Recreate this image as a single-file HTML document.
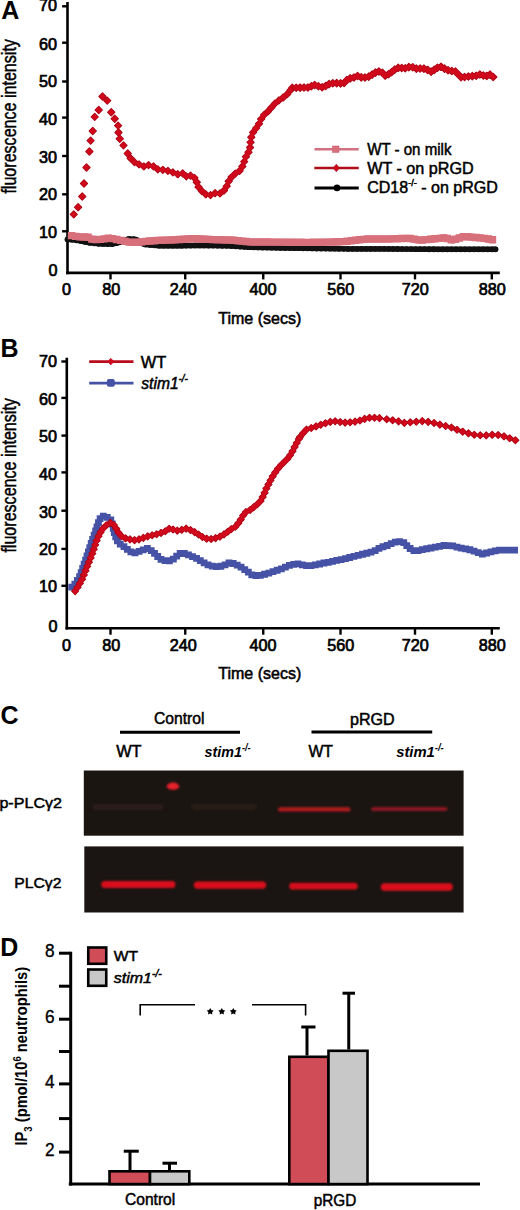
<!DOCTYPE html>
<html><head><meta charset="utf-8"><style>
html,body{margin:0;padding:0;background:#fff;}
svg{display:block;}
text{font-family:"Liberation Sans",sans-serif;fill:#000;}
</style></head><body>
<svg width="520" height="1210" viewBox="0 0 520 1210">
<rect width="520" height="1210" fill="#fff"/>
<text x="1.2" y="19" font-size="25" font-weight="bold" font-style="normal" text-anchor="start">A</text>
<line x1="67.5" y1="1.9" x2="67.5" y2="274.2" stroke="#000" stroke-width="2.6"/>
<line x1="66.2" y1="272.9" x2="499.8" y2="272.9" stroke="#000" stroke-width="2.6"/>
<line x1="62.1" y1="6.3" x2="67.5" y2="6.3" stroke="#000" stroke-width="2.4"/>
<text x="56.9" y="11.3" font-size="16.2" font-weight="normal" font-style="normal" text-anchor="end" stroke="#000" stroke-width="0.7">70</text>
<line x1="62.1" y1="42.7" x2="67.5" y2="42.7" stroke="#000" stroke-width="2.4"/>
<text x="56.9" y="49.9" font-size="16.2" font-weight="normal" font-style="normal" text-anchor="end" stroke="#000" stroke-width="0.7">60</text>
<line x1="62.1" y1="81.5" x2="67.5" y2="81.5" stroke="#000" stroke-width="2.4"/>
<text x="56.9" y="86.9" font-size="16.2" font-weight="normal" font-style="normal" text-anchor="end" stroke="#000" stroke-width="0.7">50</text>
<line x1="62.1" y1="117.6" x2="67.5" y2="117.6" stroke="#000" stroke-width="2.4"/>
<text x="56.9" y="124.6" font-size="16.2" font-weight="normal" font-style="normal" text-anchor="end" stroke="#000" stroke-width="0.7">40</text>
<line x1="62.1" y1="156.0" x2="67.5" y2="156.0" stroke="#000" stroke-width="2.4"/>
<text x="56.9" y="163.3" font-size="16.2" font-weight="normal" font-style="normal" text-anchor="end" stroke="#000" stroke-width="0.7">30</text>
<line x1="62.1" y1="194.3" x2="67.5" y2="194.3" stroke="#000" stroke-width="2.4"/>
<text x="56.9" y="199.9" font-size="16.2" font-weight="normal" font-style="normal" text-anchor="end" stroke="#000" stroke-width="0.7">20</text>
<line x1="62.1" y1="231.3" x2="67.5" y2="231.3" stroke="#000" stroke-width="2.4"/>
<text x="56.9" y="237.5" font-size="16.2" font-weight="normal" font-style="normal" text-anchor="end" stroke="#000" stroke-width="0.7">10</text>
<text x="57.5" y="276.3" font-size="16.2" font-weight="normal" font-style="normal" text-anchor="end" stroke="#000" stroke-width="0.7">0</text>
<line x1="110.5" y1="272.9" x2="110.5" y2="279.4" stroke="#000" stroke-width="2.4"/>
<text x="111.3" y="295.2" font-size="16.2" font-weight="normal" font-style="normal" text-anchor="middle" stroke="#000" stroke-width="0.7">80</text>
<line x1="185.25" y1="272.9" x2="185.25" y2="279.4" stroke="#000" stroke-width="2.4"/>
<text x="183.3" y="295.2" font-size="16.2" font-weight="normal" font-style="normal" text-anchor="middle" stroke="#000" stroke-width="0.7">240</text>
<line x1="263.25" y1="272.9" x2="263.25" y2="279.4" stroke="#000" stroke-width="2.4"/>
<text x="263.0" y="295.2" font-size="16.2" font-weight="normal" font-style="normal" text-anchor="middle" stroke="#000" stroke-width="0.7">400</text>
<line x1="340.5" y1="272.9" x2="340.5" y2="279.4" stroke="#000" stroke-width="2.4"/>
<text x="340.7" y="295.2" font-size="16.2" font-weight="normal" font-style="normal" text-anchor="middle" stroke="#000" stroke-width="0.7">560</text>
<line x1="415" y1="272.9" x2="415" y2="279.4" stroke="#000" stroke-width="2.4"/>
<text x="415.3" y="295.2" font-size="16.2" font-weight="normal" font-style="normal" text-anchor="middle" stroke="#000" stroke-width="0.7">720</text>
<line x1="491.8" y1="272.9" x2="491.8" y2="279.4" stroke="#000" stroke-width="2.4"/>
<text x="492.2" y="295.2" font-size="16.2" font-weight="normal" font-style="normal" text-anchor="middle" stroke="#000" stroke-width="0.7">880</text>
<text x="66.5" y="295.2" font-size="16.2" font-weight="normal" font-style="normal" text-anchor="middle" stroke="#000" stroke-width="0.7">0</text>
<text x="218.3" y="324.0" font-size="16.3" font-weight="normal" font-style="normal" text-anchor="start" textLength="83" lengthAdjust="spacingAndGlyphs" stroke="#000" stroke-width="0.55">Time (secs)</text>
<text transform="translate(16.3 193.6) rotate(-90)" font-size="20.5" textLength="154.5" lengthAdjust="spacingAndGlyphs" stroke="#000" stroke-width="0.45">fluorescence intensity</text>
<polyline points="67.50,239.40 73.00,239.70 80.00,240.90 90.00,242.90 100.00,243.90 112.00,244.10 122.00,241.90 128.00,238.90 136.00,239.40 144.00,244.40 160.00,245.70 180.00,245.70 200.00,245.40 230.00,245.90 250.00,247.20 280.00,247.90 310.00,248.40 350.00,248.90 380.00,248.90 410.00,249.10 440.00,249.30 470.00,249.30 495.50,249.30" fill="none" stroke="#111" stroke-width="5.4" stroke-linejoin="round" stroke-linecap="round"/>
<circle cx="67.50" cy="239.40" r="2.9" fill="#111"/>
<circle cx="71.99" cy="239.65" r="2.9" fill="#111"/>
<circle cx="76.44" cy="240.29" r="2.9" fill="#111"/>
<circle cx="80.87" cy="241.07" r="2.9" fill="#111"/>
<circle cx="85.29" cy="241.96" r="2.9" fill="#111"/>
<circle cx="89.70" cy="242.84" r="2.9" fill="#111"/>
<circle cx="94.17" cy="243.32" r="2.9" fill="#111"/>
<circle cx="98.65" cy="243.76" r="2.9" fill="#111"/>
<circle cx="103.14" cy="243.95" r="2.9" fill="#111"/>
<circle cx="107.64" cy="244.03" r="2.9" fill="#111"/>
<circle cx="112.14" cy="244.07" r="2.9" fill="#111"/>
<circle cx="116.53" cy="243.10" r="2.9" fill="#111"/>
<circle cx="120.93" cy="242.14" r="2.9" fill="#111"/>
<circle cx="125.04" cy="240.38" r="2.9" fill="#111"/>
<circle cx="129.19" cy="238.97" r="2.9" fill="#111"/>
<circle cx="133.68" cy="239.26" r="2.9" fill="#111"/>
<circle cx="137.85" cy="240.55" r="2.9" fill="#111"/>
<circle cx="141.66" cy="242.94" r="2.9" fill="#111"/>
<circle cx="145.74" cy="244.54" r="2.9" fill="#111"/>
<circle cx="150.22" cy="244.91" r="2.9" fill="#111"/>
<circle cx="154.71" cy="245.27" r="2.9" fill="#111"/>
<circle cx="159.19" cy="245.63" r="2.9" fill="#111"/>
<circle cx="163.69" cy="245.70" r="2.9" fill="#111"/>
<circle cx="168.19" cy="245.70" r="2.9" fill="#111"/>
<circle cx="172.69" cy="245.70" r="2.9" fill="#111"/>
<circle cx="177.19" cy="245.70" r="2.9" fill="#111"/>
<circle cx="181.69" cy="245.67" r="2.9" fill="#111"/>
<circle cx="186.19" cy="245.61" r="2.9" fill="#111"/>
<circle cx="190.69" cy="245.54" r="2.9" fill="#111"/>
<circle cx="195.19" cy="245.47" r="2.9" fill="#111"/>
<circle cx="199.69" cy="245.40" r="2.9" fill="#111"/>
<circle cx="204.19" cy="245.47" r="2.9" fill="#111"/>
<circle cx="208.69" cy="245.54" r="2.9" fill="#111"/>
<circle cx="213.19" cy="245.62" r="2.9" fill="#111"/>
<circle cx="217.69" cy="245.69" r="2.9" fill="#111"/>
<circle cx="222.19" cy="245.77" r="2.9" fill="#111"/>
<circle cx="226.68" cy="245.84" r="2.9" fill="#111"/>
<circle cx="231.18" cy="245.98" r="2.9" fill="#111"/>
<circle cx="235.67" cy="246.27" r="2.9" fill="#111"/>
<circle cx="240.16" cy="246.56" r="2.9" fill="#111"/>
<circle cx="244.65" cy="246.85" r="2.9" fill="#111"/>
<circle cx="249.14" cy="247.14" r="2.9" fill="#111"/>
<circle cx="253.64" cy="247.28" r="2.9" fill="#111"/>
<circle cx="258.14" cy="247.39" r="2.9" fill="#111"/>
<circle cx="262.64" cy="247.49" r="2.9" fill="#111"/>
<circle cx="267.14" cy="247.60" r="2.9" fill="#111"/>
<circle cx="271.64" cy="247.70" r="2.9" fill="#111"/>
<circle cx="276.13" cy="247.81" r="2.9" fill="#111"/>
<circle cx="280.63" cy="247.91" r="2.9" fill="#111"/>
<circle cx="285.13" cy="247.99" r="2.9" fill="#111"/>
<circle cx="289.63" cy="248.06" r="2.9" fill="#111"/>
<circle cx="294.13" cy="248.14" r="2.9" fill="#111"/>
<circle cx="298.63" cy="248.21" r="2.9" fill="#111"/>
<circle cx="303.13" cy="248.29" r="2.9" fill="#111"/>
<circle cx="307.63" cy="248.36" r="2.9" fill="#111"/>
<circle cx="312.13" cy="248.43" r="2.9" fill="#111"/>
<circle cx="316.63" cy="248.48" r="2.9" fill="#111"/>
<circle cx="321.13" cy="248.54" r="2.9" fill="#111"/>
<circle cx="325.63" cy="248.60" r="2.9" fill="#111"/>
<circle cx="330.13" cy="248.65" r="2.9" fill="#111"/>
<circle cx="334.63" cy="248.71" r="2.9" fill="#111"/>
<circle cx="339.13" cy="248.76" r="2.9" fill="#111"/>
<circle cx="343.63" cy="248.82" r="2.9" fill="#111"/>
<circle cx="348.13" cy="248.88" r="2.9" fill="#111"/>
<circle cx="352.63" cy="248.90" r="2.9" fill="#111"/>
<circle cx="357.13" cy="248.90" r="2.9" fill="#111"/>
<circle cx="361.63" cy="248.90" r="2.9" fill="#111"/>
<circle cx="366.13" cy="248.90" r="2.9" fill="#111"/>
<circle cx="370.63" cy="248.90" r="2.9" fill="#111"/>
<circle cx="375.13" cy="248.90" r="2.9" fill="#111"/>
<circle cx="379.63" cy="248.90" r="2.9" fill="#111"/>
<circle cx="384.13" cy="248.93" r="2.9" fill="#111"/>
<circle cx="388.63" cy="248.96" r="2.9" fill="#111"/>
<circle cx="393.13" cy="248.99" r="2.9" fill="#111"/>
<circle cx="397.63" cy="249.02" r="2.9" fill="#111"/>
<circle cx="402.13" cy="249.05" r="2.9" fill="#111"/>
<circle cx="406.63" cy="249.08" r="2.9" fill="#111"/>
<circle cx="411.13" cy="249.11" r="2.9" fill="#111"/>
<circle cx="415.63" cy="249.14" r="2.9" fill="#111"/>
<circle cx="420.13" cy="249.17" r="2.9" fill="#111"/>
<circle cx="424.63" cy="249.20" r="2.9" fill="#111"/>
<circle cx="429.13" cy="249.23" r="2.9" fill="#111"/>
<circle cx="433.63" cy="249.26" r="2.9" fill="#111"/>
<circle cx="438.13" cy="249.29" r="2.9" fill="#111"/>
<circle cx="442.63" cy="249.30" r="2.9" fill="#111"/>
<circle cx="447.13" cy="249.30" r="2.9" fill="#111"/>
<circle cx="451.63" cy="249.30" r="2.9" fill="#111"/>
<circle cx="456.13" cy="249.30" r="2.9" fill="#111"/>
<circle cx="460.63" cy="249.30" r="2.9" fill="#111"/>
<circle cx="465.13" cy="249.30" r="2.9" fill="#111"/>
<circle cx="469.63" cy="249.30" r="2.9" fill="#111"/>
<circle cx="474.13" cy="249.30" r="2.9" fill="#111"/>
<circle cx="478.63" cy="249.30" r="2.9" fill="#111"/>
<circle cx="483.13" cy="249.30" r="2.9" fill="#111"/>
<circle cx="487.63" cy="249.30" r="2.9" fill="#111"/>
<circle cx="492.13" cy="249.30" r="2.9" fill="#111"/>
<circle cx="495.50" cy="249.30" r="2.9" fill="#111"/>
<polyline points="71.50,235.60 76.00,236.40 81.20,237.10 87.00,236.80 92.80,239.60 100.50,239.40 110.00,238.10 119.70,240.10 129.30,242.20 139.00,242.20 148.50,241.10 160.00,240.30 175.00,239.80 193.00,238.60 213.00,239.60 232.00,240.10 250.00,241.90 270.00,242.10 290.00,242.20 307.70,242.40 330.00,242.10 345.00,241.60 356.00,240.10 368.00,239.00 385.00,239.10 400.00,238.60 408.50,238.20 420.00,240.20 432.00,239.10 445.00,237.70 452.70,240.10 464.00,236.50 483.50,238.20 492.50,239.80" fill="none" stroke="#d8707c" stroke-width="7.0" stroke-linejoin="round" stroke-linecap="round"/>
<path d="M67.80 231.90h7.40v7.40h-7.40ZM71.94 232.64h7.40v7.40h-7.40ZM76.10 233.21h7.40v7.40h-7.40ZM80.28 233.26h7.40v7.40h-7.40ZM84.36 233.61h7.40v7.40h-7.40ZM88.14 235.44h7.40v7.40h-7.40ZM92.23 235.82h7.40v7.40h-7.40ZM96.43 235.71h7.40v7.40h-7.40ZM100.60 235.18h7.40v7.40h-7.40ZM104.76 234.61h7.40v7.40h-7.40ZM108.89 234.93h7.40v7.40h-7.40ZM113.00 235.78h7.40v7.40h-7.40ZM117.11 236.64h7.40v7.40h-7.40ZM121.22 237.54h7.40v7.40h-7.40ZM125.32 238.44h7.40v7.40h-7.40ZM129.51 238.50h7.40v7.40h-7.40ZM133.71 238.50h7.40v7.40h-7.40ZM137.89 238.20h7.40v7.40h-7.40ZM142.07 237.72h7.40v7.40h-7.40ZM146.25 237.30h7.40v7.40h-7.40ZM150.44 237.01h7.40v7.40h-7.40ZM154.62 236.72h7.40v7.40h-7.40ZM158.82 236.52h7.40v7.40h-7.40ZM163.02 236.38h7.40v7.40h-7.40ZM167.21 236.24h7.40v7.40h-7.40ZM171.41 236.09h7.40v7.40h-7.40ZM175.60 235.81h7.40v7.40h-7.40ZM179.79 235.53h7.40v7.40h-7.40ZM183.98 235.25h7.40v7.40h-7.40ZM188.18 234.97h7.40v7.40h-7.40ZM192.37 235.05h7.40v7.40h-7.40ZM196.56 235.26h7.40v7.40h-7.40ZM200.76 235.47h7.40v7.40h-7.40ZM204.95 235.68h7.40v7.40h-7.40ZM209.15 235.89h7.40v7.40h-7.40ZM213.35 236.01h7.40v7.40h-7.40ZM217.54 236.12h7.40v7.40h-7.40ZM221.74 236.23h7.40v7.40h-7.40ZM225.94 236.34h7.40v7.40h-7.40ZM230.13 236.58h7.40v7.40h-7.40ZM234.31 237.00h7.40v7.40h-7.40ZM238.49 237.42h7.40v7.40h-7.40ZM242.67 237.84h7.40v7.40h-7.40ZM246.85 238.21h7.40v7.40h-7.40ZM251.05 238.25h7.40v7.40h-7.40ZM255.25 238.29h7.40v7.40h-7.40ZM259.45 238.33h7.40v7.40h-7.40ZM263.65 238.37h7.40v7.40h-7.40ZM267.85 238.41h7.40v7.40h-7.40ZM272.05 238.43h7.40v7.40h-7.40ZM276.25 238.45h7.40v7.40h-7.40ZM280.45 238.47h7.40v7.40h-7.40ZM284.65 238.49h7.40v7.40h-7.40ZM288.85 238.53h7.40v7.40h-7.40ZM293.05 238.58h7.40v7.40h-7.40ZM297.25 238.62h7.40v7.40h-7.40ZM301.45 238.67h7.40v7.40h-7.40ZM305.65 238.68h7.40v7.40h-7.40ZM309.85 238.62h7.40v7.40h-7.40ZM314.05 238.56h7.40v7.40h-7.40ZM318.25 238.51h7.40v7.40h-7.40ZM322.45 238.45h7.40v7.40h-7.40ZM326.65 238.39h7.40v7.40h-7.40ZM330.84 238.25h7.40v7.40h-7.40ZM335.04 238.11h7.40v7.40h-7.40ZM339.24 237.97h7.40v7.40h-7.40ZM343.42 237.61h7.40v7.40h-7.40ZM347.58 237.04h7.40v7.40h-7.40ZM351.74 236.48h7.40v7.40h-7.40ZM355.92 236.07h7.40v7.40h-7.40ZM360.10 235.68h7.40v7.40h-7.40ZM364.29 235.30h7.40v7.40h-7.40ZM368.49 235.32h7.40v7.40h-7.40ZM372.69 235.35h7.40v7.40h-7.40ZM376.89 235.37h7.40v7.40h-7.40ZM381.09 235.40h7.40v7.40h-7.40ZM385.28 235.27h7.40v7.40h-7.40ZM389.48 235.13h7.40v7.40h-7.40ZM393.68 234.99h7.40v7.40h-7.40ZM397.88 234.83h7.40v7.40h-7.40ZM402.07 234.63h7.40v7.40h-7.40ZM406.25 234.75h7.40v7.40h-7.40ZM410.38 235.47h7.40v7.40h-7.40ZM414.52 236.19h7.40v7.40h-7.40ZM418.69 236.28h7.40v7.40h-7.40ZM422.87 235.90h7.40v7.40h-7.40ZM427.05 235.51h7.40v7.40h-7.40ZM431.23 235.08h7.40v7.40h-7.40ZM435.40 234.63h7.40v7.40h-7.40ZM439.58 234.19h7.40v7.40h-7.40ZM443.66 234.74h7.40v7.40h-7.40ZM447.67 235.98h7.40v7.40h-7.40ZM451.67 235.55h7.40v7.40h-7.40ZM455.67 234.27h7.40v7.40h-7.40ZM459.68 233.00h7.40v7.40h-7.40ZM463.83 233.11h7.40v7.40h-7.40ZM468.02 233.47h7.40v7.40h-7.40ZM472.20 233.84h7.40v7.40h-7.40ZM476.38 234.20h7.40v7.40h-7.40ZM480.56 234.64h7.40v7.40h-7.40ZM484.69 235.37h7.40v7.40h-7.40ZM488.80 236.10h7.40v7.40h-7.40Z" fill="#d8707c"/>
<path d="M73.75 210.95L77.20 214.40L73.75 217.85L70.30 214.40ZM78.10 203.80L81.55 207.25L78.10 210.70L74.65 207.25ZM82.25 193.05L85.70 196.50L82.25 199.95L78.80 196.50ZM84.00 180.05L87.45 183.50L84.00 186.95L80.55 183.50ZM86.50 164.05L89.95 167.50L86.50 170.95L83.05 167.50ZM89.40 148.05L92.85 151.50L89.40 154.95L85.95 151.50ZM90.60 137.15L94.05 140.60L90.60 144.05L87.15 140.60ZM92.75 127.55L96.20 131.00L92.75 134.45L89.30 131.00ZM94.75 113.45L98.20 116.90L94.75 120.35L91.30 116.90ZM98.75 106.55L102.20 110.00L98.75 113.45L95.30 110.00ZM102.50 93.05L105.95 96.50L102.50 99.95L99.05 96.50ZM107.25 97.15L110.70 100.60L107.25 104.05L103.80 100.60ZM111.25 108.80L114.70 112.25L111.25 115.70L107.80 112.25ZM114.75 115.30L118.20 118.75L114.75 122.20L111.30 118.75ZM118.10 122.15L121.55 125.60L118.10 129.05L114.65 125.60ZM118.50 129.05L121.95 132.50L118.50 135.95L115.05 132.50ZM119.75 135.30L123.20 138.75L119.75 142.20L116.30 138.75ZM123.50 141.95L126.95 145.40L123.50 148.85L120.05 145.40ZM127.70 150.05L131.15 153.50L127.70 156.95L124.25 153.50ZM130.60 154.85L134.05 158.30L130.60 161.75L127.15 158.30ZM134.40 158.65L137.85 162.10L134.40 165.55L130.95 162.10ZM139.05 160.98L142.50 164.43L139.05 167.88L135.60 164.43ZM143.84 162.99L147.29 166.44L143.84 169.89L140.39 166.44ZM148.54 161.68L151.99 165.13L148.54 168.58L145.09 165.13ZM153.49 162.99L156.94 166.44L153.49 169.89L150.04 166.44ZM157.80 165.87L161.25 169.32L157.80 172.77L154.35 169.32ZM162.86 166.35L166.31 169.80L162.86 173.25L159.41 169.80ZM167.90 167.43L171.35 170.88L167.90 174.33L164.45 170.88ZM172.87 168.96L176.32 172.41L172.87 175.86L169.42 172.41ZM177.74 170.78L181.19 174.23L177.74 177.68L174.29 174.23ZM182.68 169.91L186.13 173.36L182.68 176.81L179.23 173.36ZM186.34 172.94L189.79 176.39L186.34 179.84L182.89 176.39ZM190.50 172.14L193.95 175.59L190.50 179.04L187.05 175.59ZM194.39 174.37L197.84 177.82L194.39 181.27L190.94 177.82ZM196.79 178.79L200.24 182.24L196.79 185.69L193.34 182.24ZM198.56 183.61L202.01 187.06L198.56 190.51L195.11 187.06ZM201.86 187.61L205.31 191.06L201.86 194.51L198.41 191.06ZM205.83 190.86L209.28 194.31L205.83 197.76L202.38 194.31ZM210.54 191.66L213.99 195.11L210.54 198.56L207.09 195.11ZM215.07 189.75L218.52 193.20L215.07 196.65L211.62 193.20ZM219.97 190.01L223.42 193.46L219.97 196.91L216.52 193.46ZM223.97 187.03L227.42 190.48L223.97 193.93L220.52 190.48ZM226.76 182.68L230.21 186.13L226.76 189.58L223.31 186.13ZM228.68 177.85L232.13 181.30L228.68 184.75L225.23 181.30ZM231.62 173.62L235.07 177.07L231.62 180.52L228.17 177.07ZM235.33 170.11L238.78 173.56L235.33 177.01L231.88 173.56ZM239.62 167.38L243.07 170.83L239.62 174.28L236.17 170.83ZM242.34 163.00L245.79 166.45L242.34 169.90L238.89 166.45ZM244.23 158.16L247.68 161.61L244.23 165.06L240.78 161.61ZM245.95 153.25L249.40 156.70L245.95 160.15L242.50 156.70ZM248.46 148.80L251.91 152.25L248.46 155.70L245.01 152.25ZM250.04 144.02L253.49 147.47L250.04 150.92L246.59 147.47ZM250.58 138.85L254.03 142.30L250.58 145.75L247.13 142.30ZM251.29 133.74L254.74 137.19L251.29 140.64L247.84 137.19ZM253.10 128.90L256.55 132.35L253.10 135.80L249.65 132.35ZM256.17 124.69L259.62 128.14L256.17 131.59L252.72 128.14ZM259.01 120.34L262.46 123.79L259.01 127.24L255.56 123.79ZM261.15 115.60L264.60 119.05L261.15 122.50L257.70 119.05ZM264.10 111.45L267.55 114.90L264.10 118.35L260.65 114.90ZM267.95 107.97L271.40 111.42L267.95 114.87L264.50 111.42ZM271.41 104.09L274.86 107.54L271.41 110.99L267.96 107.54ZM274.84 100.19L278.29 103.64L274.84 107.09L271.39 103.64ZM278.91 96.95L282.36 100.40L278.91 103.85L275.46 100.40ZM283.20 94.03L286.65 97.48L283.20 100.93L279.75 97.48ZM287.19 90.72L290.64 94.17L287.19 97.62L283.74 94.17ZM290.50 86.72L293.95 90.17L290.50 93.62L287.05 90.17ZM292.30 84.25L295.75 87.70L292.30 91.15L288.85 87.70Z" fill="#a4000f" stroke="#a4000f" stroke-width="1.3" stroke-linejoin="round"/>
<path d="M73.75 210.95L77.20 214.40L73.75 217.85L70.30 214.40ZM78.10 203.80L81.55 207.25L78.10 210.70L74.65 207.25ZM82.25 193.05L85.70 196.50L82.25 199.95L78.80 196.50ZM84.00 180.05L87.45 183.50L84.00 186.95L80.55 183.50ZM86.50 164.05L89.95 167.50L86.50 170.95L83.05 167.50ZM89.40 148.05L92.85 151.50L89.40 154.95L85.95 151.50ZM90.60 137.15L94.05 140.60L90.60 144.05L87.15 140.60ZM92.75 127.55L96.20 131.00L92.75 134.45L89.30 131.00ZM94.75 113.45L98.20 116.90L94.75 120.35L91.30 116.90ZM98.75 106.55L102.20 110.00L98.75 113.45L95.30 110.00ZM102.50 93.05L105.95 96.50L102.50 99.95L99.05 96.50ZM107.25 97.15L110.70 100.60L107.25 104.05L103.80 100.60ZM111.25 108.80L114.70 112.25L111.25 115.70L107.80 112.25ZM114.75 115.30L118.20 118.75L114.75 122.20L111.30 118.75ZM118.10 122.15L121.55 125.60L118.10 129.05L114.65 125.60ZM118.50 129.05L121.95 132.50L118.50 135.95L115.05 132.50ZM119.75 135.30L123.20 138.75L119.75 142.20L116.30 138.75ZM123.50 141.95L126.95 145.40L123.50 148.85L120.05 145.40ZM127.70 150.05L131.15 153.50L127.70 156.95L124.25 153.50ZM130.60 154.85L134.05 158.30L130.60 161.75L127.15 158.30ZM134.40 158.65L137.85 162.10L134.40 165.55L130.95 162.10ZM139.05 160.98L142.50 164.43L139.05 167.88L135.60 164.43ZM143.84 162.99L147.29 166.44L143.84 169.89L140.39 166.44ZM148.54 161.68L151.99 165.13L148.54 168.58L145.09 165.13ZM153.49 162.99L156.94 166.44L153.49 169.89L150.04 166.44ZM157.80 165.87L161.25 169.32L157.80 172.77L154.35 169.32ZM162.86 166.35L166.31 169.80L162.86 173.25L159.41 169.80ZM167.90 167.43L171.35 170.88L167.90 174.33L164.45 170.88ZM172.87 168.96L176.32 172.41L172.87 175.86L169.42 172.41ZM177.74 170.78L181.19 174.23L177.74 177.68L174.29 174.23ZM182.68 169.91L186.13 173.36L182.68 176.81L179.23 173.36ZM186.34 172.94L189.79 176.39L186.34 179.84L182.89 176.39ZM190.50 172.14L193.95 175.59L190.50 179.04L187.05 175.59ZM194.39 174.37L197.84 177.82L194.39 181.27L190.94 177.82ZM196.79 178.79L200.24 182.24L196.79 185.69L193.34 182.24ZM198.56 183.61L202.01 187.06L198.56 190.51L195.11 187.06ZM201.86 187.61L205.31 191.06L201.86 194.51L198.41 191.06ZM205.83 190.86L209.28 194.31L205.83 197.76L202.38 194.31ZM210.54 191.66L213.99 195.11L210.54 198.56L207.09 195.11ZM215.07 189.75L218.52 193.20L215.07 196.65L211.62 193.20ZM219.97 190.01L223.42 193.46L219.97 196.91L216.52 193.46ZM223.97 187.03L227.42 190.48L223.97 193.93L220.52 190.48ZM226.76 182.68L230.21 186.13L226.76 189.58L223.31 186.13ZM228.68 177.85L232.13 181.30L228.68 184.75L225.23 181.30ZM231.62 173.62L235.07 177.07L231.62 180.52L228.17 177.07ZM235.33 170.11L238.78 173.56L235.33 177.01L231.88 173.56ZM239.62 167.38L243.07 170.83L239.62 174.28L236.17 170.83ZM242.34 163.00L245.79 166.45L242.34 169.90L238.89 166.45ZM244.23 158.16L247.68 161.61L244.23 165.06L240.78 161.61ZM245.95 153.25L249.40 156.70L245.95 160.15L242.50 156.70ZM248.46 148.80L251.91 152.25L248.46 155.70L245.01 152.25ZM250.04 144.02L253.49 147.47L250.04 150.92L246.59 147.47ZM250.58 138.85L254.03 142.30L250.58 145.75L247.13 142.30ZM251.29 133.74L254.74 137.19L251.29 140.64L247.84 137.19ZM253.10 128.90L256.55 132.35L253.10 135.80L249.65 132.35ZM256.17 124.69L259.62 128.14L256.17 131.59L252.72 128.14ZM259.01 120.34L262.46 123.79L259.01 127.24L255.56 123.79ZM261.15 115.60L264.60 119.05L261.15 122.50L257.70 119.05ZM264.10 111.45L267.55 114.90L264.10 118.35L260.65 114.90ZM267.95 107.97L271.40 111.42L267.95 114.87L264.50 111.42ZM271.41 104.09L274.86 107.54L271.41 110.99L267.96 107.54ZM274.84 100.19L278.29 103.64L274.84 107.09L271.39 103.64ZM278.91 96.95L282.36 100.40L278.91 103.85L275.46 100.40ZM283.20 94.03L286.65 97.48L283.20 100.93L279.75 97.48ZM287.19 90.72L290.64 94.17L287.19 97.62L283.74 94.17ZM290.50 86.72L293.95 90.17L290.50 93.62L287.05 90.17ZM292.30 84.25L295.75 87.70L292.30 91.15L288.85 87.70Z" fill="#d0081c"/>
<path d="M296.20 84.10L299.80 87.70L296.20 91.30L292.60 87.70ZM300.10 84.07L303.70 87.67L300.10 91.27L296.50 87.67ZM304.00 83.93L307.60 87.53L304.00 91.13L300.40 87.53ZM307.90 83.90L311.50 87.50L307.90 91.10L304.30 87.50ZM311.36 82.59L314.96 86.19L311.36 89.79L307.76 86.19ZM314.67 81.39L318.27 84.99L314.67 88.59L311.07 84.99ZM318.37 82.62L321.97 86.22L318.37 89.82L314.77 86.22ZM322.14 83.64L325.74 87.24L322.14 90.84L318.54 87.24ZM325.61 82.45L329.21 86.05L325.61 89.65L322.01 86.05ZM329.01 80.55L332.61 84.15L329.01 87.75L325.41 84.15ZM332.82 79.70L336.42 83.30L332.82 86.90L329.22 83.30ZM336.70 79.50L340.30 83.10L336.70 86.70L333.10 83.10ZM340.58 79.76L344.18 83.36L340.58 86.96L336.98 83.36ZM344.11 79.27L347.71 82.87L344.11 86.47L340.51 82.87ZM346.84 76.49L350.44 80.09L346.84 83.69L343.24 80.09ZM350.16 74.81L353.76 78.41L350.16 82.01L346.56 78.41ZM353.94 73.89L357.54 77.49L353.94 81.09L350.34 77.49ZM357.56 72.45L361.16 76.05L357.56 79.65L353.96 76.05ZM361.19 73.78L364.79 77.38L361.19 80.98L357.59 77.38ZM364.95 73.88L368.55 77.48L364.95 81.08L361.35 77.48ZM368.73 73.04L372.33 76.64L368.73 80.24L365.13 76.64ZM372.07 71.02L375.67 74.62L372.07 78.22L368.47 74.62ZM375.43 69.04L379.03 72.64L375.43 76.24L371.83 72.64ZM378.91 67.84L382.51 71.44L378.91 75.04L375.31 71.44ZM382.44 69.23L386.04 72.83L382.44 76.43L378.84 72.83ZM385.21 71.97L388.81 75.57L385.21 79.17L381.61 75.57ZM388.48 70.65L392.08 74.25L388.48 77.85L384.88 74.25ZM391.69 68.45L395.29 72.05L391.69 75.65L388.09 72.05ZM394.72 65.99L398.32 69.59L394.72 73.19L391.12 69.59ZM398.20 64.29L401.80 67.89L398.20 71.49L394.60 67.89ZM401.73 64.37L405.33 67.97L401.73 71.57L398.13 67.97ZM405.23 64.70L408.83 68.30L405.23 71.90L401.63 68.30ZM408.85 63.50L412.45 67.10L408.85 70.70L405.25 67.10ZM412.73 63.59L416.33 67.19L412.73 70.79L409.13 67.19ZM416.36 65.03L419.96 68.63L416.36 72.23L412.76 68.63ZM420.14 64.87L423.74 68.47L420.14 72.07L416.54 68.47ZM423.92 65.07L427.52 68.67L423.92 72.27L420.32 68.67ZM427.60 66.33L431.20 69.93L427.60 73.53L424.00 69.93ZM431.12 68.02L434.72 71.62L431.12 75.22L427.52 71.62ZM434.25 66.28L437.85 69.88L434.25 73.48L430.65 69.88ZM437.45 64.11L441.05 67.71L437.45 71.31L433.85 67.71ZM441.03 63.23L444.63 66.83L441.03 70.43L437.43 66.83ZM444.49 65.03L448.09 68.63L444.49 72.23L440.89 68.63ZM448.06 66.59L451.66 70.19L448.06 73.79L444.46 70.19ZM451.80 67.40L455.40 71.00L451.80 74.60L448.20 71.00ZM455.45 68.03L459.05 71.63L455.45 75.23L451.85 71.63ZM458.24 70.75L461.84 74.35L458.24 77.95L454.64 74.35ZM460.96 73.54L464.56 77.14L460.96 80.74L457.36 77.14ZM464.56 73.46L468.16 77.06L464.56 80.66L460.96 77.06ZM468.41 72.88L472.01 76.48L468.41 80.08L464.81 76.48ZM472.29 72.51L475.89 76.11L472.29 79.71L468.69 76.11ZM476.17 72.14L479.77 75.74L476.17 79.34L472.57 75.74ZM479.87 70.91L483.47 74.51L479.87 78.11L476.27 74.51ZM483.39 71.95L486.99 75.55L483.39 79.15L479.79 75.55ZM486.78 72.33L490.38 75.93L486.78 79.53L483.18 75.93ZM490.01 71.05L493.61 74.65L490.01 78.25L486.41 74.65ZM493.17 73.35L496.77 76.95L493.17 80.55L489.57 76.95Z" fill="#a4000f" stroke="#a4000f" stroke-width="1.3" stroke-linejoin="round"/>
<path d="M296.20 84.10L299.80 87.70L296.20 91.30L292.60 87.70ZM300.10 84.07L303.70 87.67L300.10 91.27L296.50 87.67ZM304.00 83.93L307.60 87.53L304.00 91.13L300.40 87.53ZM307.90 83.90L311.50 87.50L307.90 91.10L304.30 87.50ZM311.36 82.59L314.96 86.19L311.36 89.79L307.76 86.19ZM314.67 81.39L318.27 84.99L314.67 88.59L311.07 84.99ZM318.37 82.62L321.97 86.22L318.37 89.82L314.77 86.22ZM322.14 83.64L325.74 87.24L322.14 90.84L318.54 87.24ZM325.61 82.45L329.21 86.05L325.61 89.65L322.01 86.05ZM329.01 80.55L332.61 84.15L329.01 87.75L325.41 84.15ZM332.82 79.70L336.42 83.30L332.82 86.90L329.22 83.30ZM336.70 79.50L340.30 83.10L336.70 86.70L333.10 83.10ZM340.58 79.76L344.18 83.36L340.58 86.96L336.98 83.36ZM344.11 79.27L347.71 82.87L344.11 86.47L340.51 82.87ZM346.84 76.49L350.44 80.09L346.84 83.69L343.24 80.09ZM350.16 74.81L353.76 78.41L350.16 82.01L346.56 78.41ZM353.94 73.89L357.54 77.49L353.94 81.09L350.34 77.49ZM357.56 72.45L361.16 76.05L357.56 79.65L353.96 76.05ZM361.19 73.78L364.79 77.38L361.19 80.98L357.59 77.38ZM364.95 73.88L368.55 77.48L364.95 81.08L361.35 77.48ZM368.73 73.04L372.33 76.64L368.73 80.24L365.13 76.64ZM372.07 71.02L375.67 74.62L372.07 78.22L368.47 74.62ZM375.43 69.04L379.03 72.64L375.43 76.24L371.83 72.64ZM378.91 67.84L382.51 71.44L378.91 75.04L375.31 71.44ZM382.44 69.23L386.04 72.83L382.44 76.43L378.84 72.83ZM385.21 71.97L388.81 75.57L385.21 79.17L381.61 75.57ZM388.48 70.65L392.08 74.25L388.48 77.85L384.88 74.25ZM391.69 68.45L395.29 72.05L391.69 75.65L388.09 72.05ZM394.72 65.99L398.32 69.59L394.72 73.19L391.12 69.59ZM398.20 64.29L401.80 67.89L398.20 71.49L394.60 67.89ZM401.73 64.37L405.33 67.97L401.73 71.57L398.13 67.97ZM405.23 64.70L408.83 68.30L405.23 71.90L401.63 68.30ZM408.85 63.50L412.45 67.10L408.85 70.70L405.25 67.10ZM412.73 63.59L416.33 67.19L412.73 70.79L409.13 67.19ZM416.36 65.03L419.96 68.63L416.36 72.23L412.76 68.63ZM420.14 64.87L423.74 68.47L420.14 72.07L416.54 68.47ZM423.92 65.07L427.52 68.67L423.92 72.27L420.32 68.67ZM427.60 66.33L431.20 69.93L427.60 73.53L424.00 69.93ZM431.12 68.02L434.72 71.62L431.12 75.22L427.52 71.62ZM434.25 66.28L437.85 69.88L434.25 73.48L430.65 69.88ZM437.45 64.11L441.05 67.71L437.45 71.31L433.85 67.71ZM441.03 63.23L444.63 66.83L441.03 70.43L437.43 66.83ZM444.49 65.03L448.09 68.63L444.49 72.23L440.89 68.63ZM448.06 66.59L451.66 70.19L448.06 73.79L444.46 70.19ZM451.80 67.40L455.40 71.00L451.80 74.60L448.20 71.00ZM455.45 68.03L459.05 71.63L455.45 75.23L451.85 71.63ZM458.24 70.75L461.84 74.35L458.24 77.95L454.64 74.35ZM460.96 73.54L464.56 77.14L460.96 80.74L457.36 77.14ZM464.56 73.46L468.16 77.06L464.56 80.66L460.96 77.06ZM468.41 72.88L472.01 76.48L468.41 80.08L464.81 76.48ZM472.29 72.51L475.89 76.11L472.29 79.71L468.69 76.11ZM476.17 72.14L479.77 75.74L476.17 79.34L472.57 75.74ZM479.87 70.91L483.47 74.51L479.87 78.11L476.27 74.51ZM483.39 71.95L486.99 75.55L483.39 79.15L479.79 75.55ZM486.78 72.33L490.38 75.93L486.78 79.53L483.18 75.93ZM490.01 71.05L493.61 74.65L490.01 78.25L486.41 74.65ZM493.17 73.35L496.77 76.95L493.17 80.55L489.57 76.95Z" fill="#d0081c"/>
<line x1="314.5" y1="149.2" x2="358.75" y2="149.2" stroke="#d07080" stroke-width="2.6"/>
<rect x="332.6" y="146" width="6.4" height="6.4" fill="#d8707c" stroke="#c86070" stroke-width="0.6"/>
<line x1="314.3" y1="168" x2="358.75" y2="168" stroke="#b00c1a" stroke-width="2.6"/>
<path d="M336.3 164.2L339.4 168L336.3 171.8L333.2 168Z" fill="#d0081c" stroke="#a00010" stroke-width="0.6"/>
<line x1="314.5" y1="187.9" x2="358.75" y2="187.9" stroke="#000" stroke-width="3"/>
<circle cx="337" cy="187.9" r="3.3" fill="#000"/>
<text x="367.2" y="155" font-size="15.8" font-weight="normal" font-style="normal" text-anchor="start" textLength="84.3" lengthAdjust="spacingAndGlyphs" stroke="#000" stroke-width="0.5">WT - on milk</text>
<text x="367.2" y="173.8" font-size="15.8" font-weight="normal" font-style="normal" text-anchor="start" textLength="106.5" lengthAdjust="spacingAndGlyphs" stroke="#000" stroke-width="0.5">WT - on pRGD</text>
<text x="367.2" y="192.6" font-size="15.8" font-weight="normal" font-style="normal" text-anchor="start" textLength="130.7" lengthAdjust="spacingAndGlyphs" stroke="#000" stroke-width="0.5">CD18<tspan font-size="9" dy="-6.8">-/-</tspan><tspan dy="6.8"> - on pRGD</tspan></text>
<text x="0.5" y="357" font-size="25" font-weight="bold" font-style="normal" text-anchor="start">B</text>
<line x1="66.8" y1="357.7" x2="66.8" y2="629.5" stroke="#000" stroke-width="2.6"/>
<line x1="65.5" y1="628.2" x2="499.8" y2="628.2" stroke="#000" stroke-width="2.6"/>
<line x1="61.4" y1="361.5" x2="66.8" y2="361.5" stroke="#000" stroke-width="2.4"/>
<text x="56.9" y="366.6" font-size="16.2" font-weight="normal" font-style="normal" text-anchor="end" stroke="#000" stroke-width="0.7">70</text>
<line x1="61.4" y1="397.9" x2="66.8" y2="397.9" stroke="#000" stroke-width="2.4"/>
<text x="56.9" y="405.2" font-size="16.2" font-weight="normal" font-style="normal" text-anchor="end" stroke="#000" stroke-width="0.7">60</text>
<line x1="61.4" y1="435.6" x2="66.8" y2="435.6" stroke="#000" stroke-width="2.4"/>
<text x="56.9" y="441.6" font-size="16.2" font-weight="normal" font-style="normal" text-anchor="end" stroke="#000" stroke-width="0.7">50</text>
<line x1="61.4" y1="472.4" x2="66.8" y2="472.4" stroke="#000" stroke-width="2.4"/>
<text x="56.9" y="479.5" font-size="16.2" font-weight="normal" font-style="normal" text-anchor="end" stroke="#000" stroke-width="0.7">40</text>
<line x1="61.4" y1="510.7" x2="66.8" y2="510.7" stroke="#000" stroke-width="2.4"/>
<text x="56.9" y="518.0" font-size="16.2" font-weight="normal" font-style="normal" text-anchor="end" stroke="#000" stroke-width="0.7">30</text>
<line x1="61.4" y1="548.9" x2="66.8" y2="548.9" stroke="#000" stroke-width="2.4"/>
<text x="56.9" y="554.8" font-size="16.2" font-weight="normal" font-style="normal" text-anchor="end" stroke="#000" stroke-width="0.7">20</text>
<line x1="61.4" y1="585.8" x2="66.8" y2="585.8" stroke="#000" stroke-width="2.4"/>
<text x="56.9" y="592.0" font-size="16.2" font-weight="normal" font-style="normal" text-anchor="end" stroke="#000" stroke-width="0.7">10</text>
<text x="57.5" y="631.6" font-size="16.2" font-weight="normal" font-style="normal" text-anchor="end" stroke="#000" stroke-width="0.7">0</text>
<line x1="110.5" y1="628.2" x2="110.5" y2="634.7" stroke="#000" stroke-width="2.4"/>
<text x="111.3" y="650.5" font-size="16.2" font-weight="normal" font-style="normal" text-anchor="middle" stroke="#000" stroke-width="0.7">80</text>
<line x1="185.25" y1="628.2" x2="185.25" y2="634.7" stroke="#000" stroke-width="2.4"/>
<text x="183.3" y="650.5" font-size="16.2" font-weight="normal" font-style="normal" text-anchor="middle" stroke="#000" stroke-width="0.7">240</text>
<line x1="263.25" y1="628.2" x2="263.25" y2="634.7" stroke="#000" stroke-width="2.4"/>
<text x="263.0" y="650.5" font-size="16.2" font-weight="normal" font-style="normal" text-anchor="middle" stroke="#000" stroke-width="0.7">400</text>
<line x1="340.5" y1="628.2" x2="340.5" y2="634.7" stroke="#000" stroke-width="2.4"/>
<text x="340.7" y="650.5" font-size="16.2" font-weight="normal" font-style="normal" text-anchor="middle" stroke="#000" stroke-width="0.7">560</text>
<line x1="415" y1="628.2" x2="415" y2="634.7" stroke="#000" stroke-width="2.4"/>
<text x="415.3" y="650.5" font-size="16.2" font-weight="normal" font-style="normal" text-anchor="middle" stroke="#000" stroke-width="0.7">720</text>
<line x1="491.8" y1="628.2" x2="491.8" y2="634.7" stroke="#000" stroke-width="2.4"/>
<text x="492.2" y="650.5" font-size="16.2" font-weight="normal" font-style="normal" text-anchor="middle" stroke="#000" stroke-width="0.7">880</text>
<text x="66.5" y="650.5" font-size="16.2" font-weight="normal" font-style="normal" text-anchor="middle" stroke="#000" stroke-width="0.7">0</text>
<text x="218.3" y="679.3000000000001" font-size="16.3" font-weight="normal" font-style="normal" text-anchor="start" textLength="83" lengthAdjust="spacingAndGlyphs" stroke="#000" stroke-width="0.55">Time (secs)</text>
<text transform="translate(16.3 552.6) rotate(-90)" font-size="20.5" textLength="154.5" lengthAdjust="spacingAndGlyphs" stroke="#000" stroke-width="0.45">fluorescence intensity</text>
<polyline points="71.70,587.10 75.80,583.10 79.80,576.30 83.20,566.90 86.50,557.50 89.20,549.40 91.90,541.30 95.30,531.90 98.00,523.80 100.70,517.10 104.00,515.80 108.10,517.80 111.40,520.50 114.10,531.90 116.80,540.00 120.20,544.00 124.20,546.70 128.30,550.10 132.30,552.90 135.80,552.90 141.50,550.40 147.30,548.50 152.10,551.00 156.90,555.80 161.70,560.00 167.50,561.20 172.30,560.00 177.10,555.80 181.00,552.90 185.80,553.80 190.60,555.80 195.40,557.70 201.20,561.20 206.90,564.40 212.70,566.30 218.50,566.90 224.20,565.40 230.00,562.50 236.25,564.50 242.50,568.00 248.75,572.50 252.50,575.50 260.00,575.50 267.50,573.50 275.00,571.00 282.50,568.50 290.00,565.00 297.50,563.70 305.80,565.60 311.50,565.60 317.30,564.60 323.10,563.10 328.80,562.30 334.60,560.80 340.40,559.80 346.20,558.50 351.90,556.90 357.70,555.40 363.50,554.00 369.20,552.70 375.00,550.80 380.80,547.30 386.50,545.80 392.30,543.10 398.00,541.20 404.20,542.70 408.30,547.50 415.00,551.30 423.10,549.40 433.80,547.50 444.60,545.40 452.70,545.90 460.80,548.10 468.90,549.40 476.90,552.10 482.30,554.00 490.40,552.10 498.50,550.20 506.50,550.20 514.60,550.20" fill="none" stroke="#4552a6" stroke-width="3.0" stroke-linejoin="round" stroke-linecap="round"/>
<path d="M68.30 583.70h6.80v6.80h-6.80ZM71.45 580.63h6.80v6.80h-6.80ZM73.96 577.05h6.80v6.80h-6.80ZM76.19 573.26h6.80v6.80h-6.80ZM77.75 569.15h6.80v6.80h-6.80ZM79.25 565.02h6.80v6.80h-6.80ZM80.72 560.87h6.80v6.80h-6.80ZM82.18 556.72h6.80v6.80h-6.80ZM83.61 552.56h6.80v6.80h-6.80ZM85.01 548.38h6.80v6.80h-6.80ZM86.40 544.21h6.80v6.80h-6.80ZM87.79 540.04h6.80v6.80h-6.80ZM89.23 535.88h6.80v6.80h-6.80ZM90.73 531.74h6.80v6.80h-6.80ZM92.20 527.60h6.80v6.80h-6.80ZM93.59 523.42h6.80v6.80h-6.80ZM95.05 519.27h6.80v6.80h-6.80ZM96.70 515.19h6.80v6.80h-6.80ZM99.90 512.68h6.80v6.80h-6.80ZM103.87 514.00h6.80v6.80h-6.80ZM107.39 516.60h6.80v6.80h-6.80ZM108.83 520.62h6.80v6.80h-6.80ZM109.85 524.90h6.80v6.80h-6.80ZM110.92 529.17h6.80v6.80h-6.80ZM112.31 533.34h6.80v6.80h-6.80ZM114.02 537.33h6.80v6.80h-6.80ZM116.89 540.66h6.80v6.80h-6.80ZM120.54 543.13h6.80v6.80h-6.80ZM123.95 545.91h6.80v6.80h-6.80ZM127.49 548.51h6.80v6.80h-6.80ZM131.58 549.50h6.80v6.80h-6.80ZM135.68 548.06h6.80v6.80h-6.80ZM139.77 546.45h6.80v6.80h-6.80ZM143.95 545.12h6.80v6.80h-6.80ZM147.85 547.16h6.80v6.80h-6.80ZM151.13 550.03h6.80v6.80h-6.80ZM154.29 553.09h6.80v6.80h-6.80ZM157.60 555.99h6.80v6.80h-6.80ZM161.70 557.30h6.80v6.80h-6.80ZM165.99 557.33h6.80v6.80h-6.80ZM169.96 555.68h6.80v6.80h-6.80ZM173.27 552.78h6.80v6.80h-6.80ZM176.77 550.12h6.80v6.80h-6.80ZM180.91 550.12h6.80v6.80h-6.80ZM185.06 551.51h6.80v6.80h-6.80ZM189.14 553.17h6.80v6.80h-6.80ZM193.13 554.98h6.80v6.80h-6.80ZM196.90 557.25h6.80v6.80h-6.80ZM200.72 559.44h6.80v6.80h-6.80ZM204.65 561.38h6.80v6.80h-6.80ZM208.83 562.75h6.80v6.80h-6.80ZM213.18 563.30h6.80v6.80h-6.80ZM217.49 562.87h6.80v6.80h-6.80ZM221.68 561.56h6.80v6.80h-6.80ZM225.61 559.59h6.80v6.80h-6.80ZM229.74 560.10h6.80v6.80h-6.80ZM233.84 561.65h6.80v6.80h-6.80ZM237.68 563.80h6.80v6.80h-6.80ZM241.35 566.22h6.80v6.80h-6.80ZM244.92 568.79h6.80v6.80h-6.80ZM248.37 571.52h6.80v6.80h-6.80ZM252.57 572.10h6.80v6.80h-6.80ZM256.95 572.01h6.80v6.80h-6.80ZM261.21 570.87h6.80v6.80h-6.80ZM265.43 569.66h6.80v6.80h-6.80ZM269.61 568.26h6.80v6.80h-6.80ZM273.78 566.87h6.80v6.80h-6.80ZM277.95 565.48h6.80v6.80h-6.80ZM281.99 563.75h6.80v6.80h-6.80ZM285.98 561.89h6.80v6.80h-6.80ZM290.26 560.97h6.80v6.80h-6.80ZM294.59 560.41h6.80v6.80h-6.80ZM298.88 561.39h6.80v6.80h-6.80ZM303.19 562.20h6.80v6.80h-6.80ZM307.59 562.20h6.80v6.80h-6.80ZM311.93 561.54h6.80v6.80h-6.80ZM316.23 560.60h6.80v6.80h-6.80ZM320.51 559.59h6.80v6.80h-6.80ZM324.86 558.98h6.80v6.80h-6.80ZM329.13 557.93h6.80v6.80h-6.80ZM333.43 557.01h6.80v6.80h-6.80ZM337.76 556.23h6.80v6.80h-6.80ZM342.06 555.27h6.80v6.80h-6.80ZM346.30 554.12h6.80v6.80h-6.80ZM350.55 552.97h6.80v6.80h-6.80ZM354.81 551.88h6.80v6.80h-6.80ZM359.09 550.84h6.80v6.80h-6.80ZM363.38 549.85h6.80v6.80h-6.80ZM367.62 548.70h6.80v6.80h-6.80ZM371.78 547.29h6.80v6.80h-6.80ZM375.55 545.02h6.80v6.80h-6.80ZM379.56 543.33h6.80v6.80h-6.80ZM383.77 542.09h6.80v6.80h-6.80ZM387.76 540.23h6.80v6.80h-6.80ZM391.88 538.71h6.80v6.80h-6.80ZM396.09 538.16h6.80v6.80h-6.80ZM400.37 539.20h6.80v6.80h-6.80ZM403.37 542.31h6.80v6.80h-6.80ZM406.68 545.11h6.80v6.80h-6.80ZM410.51 547.28h6.80v6.80h-6.80ZM414.66 547.18h6.80v6.80h-6.80ZM418.94 546.18h6.80v6.80h-6.80ZM423.27 545.37h6.80v6.80h-6.80ZM427.60 544.60h6.80v6.80h-6.80ZM431.93 543.80h6.80v6.80h-6.80ZM436.24 542.96h6.80v6.80h-6.80ZM440.56 542.12h6.80v6.80h-6.80ZM444.94 542.23h6.80v6.80h-6.80ZM449.33 542.51h6.80v6.80h-6.80ZM453.58 543.66h6.80v6.80h-6.80ZM457.84 544.77h6.80v6.80h-6.80ZM462.18 545.47h6.80v6.80h-6.80ZM466.48 546.33h6.80v6.80h-6.80ZM470.65 547.74h6.80v6.80h-6.80ZM474.82 549.16h6.80v6.80h-6.80ZM478.97 550.58h6.80v6.80h-6.80ZM483.25 549.58h6.80v6.80h-6.80ZM487.54 548.57h6.80v6.80h-6.80ZM491.82 547.57h6.80v6.80h-6.80ZM496.13 546.80h6.80v6.80h-6.80ZM500.53 546.80h6.80v6.80h-6.80ZM504.93 546.80h6.80v6.80h-6.80ZM509.33 546.80h6.80v6.80h-6.80ZM511.20 546.80h6.80v6.80h-6.80Z" fill="#4552a6"/>
<path d="M75.10 587.75L78.45 591.10L75.10 594.45L71.75 591.10ZM77.58 583.88L80.93 587.23L77.58 590.58L74.23 587.23ZM79.88 579.90L83.23 583.25L79.88 586.60L76.53 583.25ZM82.07 575.85L85.42 579.20L82.07 582.55L78.72 579.20ZM83.83 571.61L87.18 574.96L83.83 578.31L80.48 574.96ZM85.49 567.32L88.84 570.67L85.49 574.02L82.14 570.67ZM87.20 563.05L90.55 566.40L87.20 569.75L83.85 566.40ZM88.94 558.79L92.29 562.14L88.94 565.49L85.59 562.14ZM90.66 554.52L94.01 557.87L90.66 561.22L87.31 557.87ZM92.31 550.23L95.66 553.58L92.31 556.93L88.96 553.58ZM93.76 545.86L97.11 549.21L93.76 552.56L90.41 549.21ZM95.22 541.50L98.57 544.85L95.22 548.20L91.87 544.85ZM96.67 537.14L100.02 540.49L96.67 543.84L93.32 540.49ZM98.48 532.92L101.83 536.27L98.48 539.62L95.13 536.27ZM100.56 528.82L103.91 532.17L100.56 535.52L97.21 532.17ZM103.17 525.03L106.52 528.38L103.17 531.73L99.82 528.38ZM106.43 521.84L109.78 525.19L106.43 528.54L103.08 525.19ZM110.36 519.56L113.71 522.91L110.36 526.26L107.01 522.91ZM113.86 521.61L117.21 524.96L113.86 528.31L110.51 524.96ZM116.29 525.47L119.64 528.82L116.29 532.17L112.94 528.82ZM118.56 529.46L121.91 532.81L118.56 536.16L115.21 532.81ZM121.54 532.85L124.89 536.20L121.54 539.55L118.19 536.20ZM125.55 534.98L128.90 538.33L125.55 541.68L122.20 538.33ZM130.03 536.03L133.38 539.38L130.03 542.73L126.68 539.38ZM134.56 536.83L137.91 540.18L134.56 543.53L131.21 540.18ZM138.97 535.99L142.32 539.34L138.97 542.69L135.62 539.34ZM143.33 534.52L146.68 537.87L143.33 541.22L139.98 537.87ZM147.68 533.05L151.03 536.40L147.68 539.75L144.33 536.40ZM152.14 531.90L155.49 535.25L152.14 538.60L148.79 535.25ZM156.61 530.85L159.96 534.20L156.61 537.55L153.26 534.20ZM161.03 529.58L164.38 532.93L161.03 536.28L157.68 532.93ZM165.29 527.90L168.64 531.25L165.29 534.60L161.94 531.25ZM169.14 525.38L172.49 528.73L169.14 532.08L165.79 528.73ZM173.04 526.15L176.39 529.50L173.04 532.85L169.69 529.50ZM177.27 527.28L180.62 530.63L177.27 533.98L173.92 530.63ZM181.77 526.47L185.12 529.82L181.77 533.17L178.42 529.82ZM186.14 525.26L189.49 528.61L186.14 531.96L182.79 528.61ZM190.51 526.72L193.86 530.07L190.51 533.42L187.16 530.07ZM194.59 528.81L197.94 532.16L194.59 535.51L191.24 532.16ZM198.54 531.16L201.89 534.51L198.54 537.86L195.19 534.51ZM202.39 533.68L205.74 537.03L202.39 540.38L199.04 537.03ZM206.65 535.33L210.00 538.68L206.65 542.03L203.30 538.68ZM211.11 535.69L214.46 539.04L211.11 542.39L207.76 539.04ZM215.61 534.80L218.96 538.15L215.61 541.50L212.26 538.15ZM219.96 533.30L223.31 536.65L219.96 540.00L216.61 536.65ZM223.97 531.06L227.32 534.41L223.97 537.76L220.62 534.41ZM227.72 528.43L231.07 531.78L227.72 535.13L224.37 531.78ZM231.37 525.67L234.72 529.02L231.37 532.37L228.02 529.02ZM235.37 523.40L238.72 526.75L235.37 530.10L232.02 526.75ZM238.24 519.91L241.59 523.26L238.24 526.61L234.89 523.26ZM240.79 516.09L244.14 519.44L240.79 522.79L237.44 519.44ZM243.19 512.16L246.54 515.51L243.19 518.86L239.84 515.51ZM245.97 508.66L249.32 512.01L245.97 515.36L242.62 512.01ZM250.08 506.59L253.43 509.94L250.08 513.29L246.73 509.94ZM253.76 503.83L257.11 507.18L253.76 510.53L250.41 507.18ZM257.32 500.93L260.67 504.28L257.32 507.63L253.97 504.28ZM260.51 497.69L263.86 501.04L260.51 504.39L257.16 501.04ZM262.68 493.64L266.03 496.99L262.68 500.34L259.33 496.99ZM264.62 489.47L267.97 492.82L264.62 496.17L261.27 492.82ZM266.34 485.21L269.69 488.56L266.34 491.91L262.99 488.56ZM268.40 481.10L271.75 484.45L268.40 487.80L265.05 484.45ZM270.50 477.00L273.85 480.35L270.50 483.70L267.15 480.35ZM272.73 472.98L276.08 476.33L272.73 479.68L269.38 476.33ZM275.21 469.11L278.56 472.46L275.21 475.81L271.86 472.46ZM277.88 465.37L281.23 468.72L277.88 472.07L274.53 468.72ZM280.94 461.96L284.29 465.31L280.94 468.66L277.59 465.31ZM284.20 458.70L287.55 462.05L284.20 465.40L280.85 462.05ZM287.45 455.45L290.80 458.80L287.45 462.15L284.10 458.80ZM290.17 451.78L293.52 455.13L290.17 458.48L286.82 455.13ZM292.53 447.84L295.88 451.19L292.53 454.54L289.18 451.19ZM294.59 443.72L297.94 447.07L294.59 450.42L291.24 447.07ZM296.68 439.63L300.03 442.98L296.68 446.33L293.33 442.98ZM298.91 435.60L302.26 438.95L298.91 442.30L295.56 438.95ZM300.00 433.65L303.35 437.00L300.00 440.35L296.65 437.00ZM303.16 429.78L306.51 433.13L303.16 436.48L299.81 433.13ZM306.52 426.21L309.87 429.56L306.52 432.91L303.17 429.56ZM311.26 424.63L314.61 427.98L311.26 431.33L307.91 427.98ZM316.01 423.07L319.36 426.42L316.01 429.77L312.66 426.42ZM320.74 421.44L324.09 424.79L320.74 428.14L317.39 424.79ZM325.47 419.84L328.82 423.19L325.47 426.54L322.12 423.19ZM330.28 418.52L333.63 421.87L330.28 425.22L326.93 421.87ZM335.22 417.95L338.57 421.30L335.22 424.65L331.87 421.30ZM340.16 418.71L343.51 422.06L340.16 425.41L336.81 422.06ZM345.13 419.24L348.48 422.59L345.13 425.94L341.78 422.59ZM350.11 418.94L353.46 422.29L350.11 425.64L346.76 422.29ZM355.06 418.26L358.41 421.61L355.06 424.96L351.71 421.61ZM359.90 417.09L363.25 420.44L359.90 423.79L356.55 420.44ZM364.65 415.55L368.00 418.90L364.65 422.25L361.30 418.90ZM369.50 414.35L372.85 417.70L369.50 421.05L366.15 417.70ZM374.50 414.35L377.85 417.70L374.50 421.05L371.15 417.70ZM379.47 414.81L382.82 418.16L379.47 421.51L376.12 418.16ZM386.73 415.89L390.08 419.24L386.73 422.59L383.38 419.24ZM392.64 416.91L395.99 420.26L392.64 423.61L389.29 420.26ZM398.54 418.00L401.89 421.35L398.54 424.70L395.19 421.35ZM404.33 419.54L407.68 422.89L404.33 426.24L400.98 422.89ZM410.30 418.95L413.65 422.30L410.30 425.65L406.95 422.30ZM416.27 418.35L419.62 421.70L416.27 425.05L412.92 421.70ZM422.24 417.74L425.59 421.09L422.24 424.44L418.89 421.09ZM428.15 418.55L431.50 421.90L428.15 425.25L424.80 421.90ZM434.06 419.62L437.41 422.97L434.06 426.32L430.71 422.97ZM439.83 421.26L443.18 424.61L439.83 427.96L436.48 424.61ZM445.65 422.71L449.00 426.06L445.65 429.41L442.30 426.06ZM451.45 424.14L454.80 427.49L451.45 430.84L448.10 427.49ZM457.01 426.40L460.36 429.75L457.01 433.10L453.66 429.75ZM462.69 428.32L466.04 431.67L462.69 435.02L459.34 431.67ZM468.45 429.98L471.80 433.33L468.45 436.68L465.10 433.33ZM474.29 431.34L477.64 434.69L474.29 438.04L470.94 434.69ZM480.25 431.90L483.60 435.25L480.25 438.60L476.90 435.25ZM486.24 432.04L489.59 435.39L486.24 438.74L482.89 435.39ZM492.21 431.48L495.56 434.83L492.21 438.18L488.86 434.83ZM498.14 431.67L501.49 435.02L498.14 438.37L494.79 435.02ZM503.99 432.98L507.34 436.33L503.99 439.68L500.64 436.33ZM509.68 434.90L513.03 438.25L509.68 441.60L506.33 438.25ZM515.35 436.86L518.70 440.21L515.35 443.56L512.00 440.21Z" fill="#a4000f" stroke="#a4000f" stroke-width="1.3" stroke-linejoin="round"/>
<path d="M75.10 587.75L78.45 591.10L75.10 594.45L71.75 591.10ZM77.58 583.88L80.93 587.23L77.58 590.58L74.23 587.23ZM79.88 579.90L83.23 583.25L79.88 586.60L76.53 583.25ZM82.07 575.85L85.42 579.20L82.07 582.55L78.72 579.20ZM83.83 571.61L87.18 574.96L83.83 578.31L80.48 574.96ZM85.49 567.32L88.84 570.67L85.49 574.02L82.14 570.67ZM87.20 563.05L90.55 566.40L87.20 569.75L83.85 566.40ZM88.94 558.79L92.29 562.14L88.94 565.49L85.59 562.14ZM90.66 554.52L94.01 557.87L90.66 561.22L87.31 557.87ZM92.31 550.23L95.66 553.58L92.31 556.93L88.96 553.58ZM93.76 545.86L97.11 549.21L93.76 552.56L90.41 549.21ZM95.22 541.50L98.57 544.85L95.22 548.20L91.87 544.85ZM96.67 537.14L100.02 540.49L96.67 543.84L93.32 540.49ZM98.48 532.92L101.83 536.27L98.48 539.62L95.13 536.27ZM100.56 528.82L103.91 532.17L100.56 535.52L97.21 532.17ZM103.17 525.03L106.52 528.38L103.17 531.73L99.82 528.38ZM106.43 521.84L109.78 525.19L106.43 528.54L103.08 525.19ZM110.36 519.56L113.71 522.91L110.36 526.26L107.01 522.91ZM113.86 521.61L117.21 524.96L113.86 528.31L110.51 524.96ZM116.29 525.47L119.64 528.82L116.29 532.17L112.94 528.82ZM118.56 529.46L121.91 532.81L118.56 536.16L115.21 532.81ZM121.54 532.85L124.89 536.20L121.54 539.55L118.19 536.20ZM125.55 534.98L128.90 538.33L125.55 541.68L122.20 538.33ZM130.03 536.03L133.38 539.38L130.03 542.73L126.68 539.38ZM134.56 536.83L137.91 540.18L134.56 543.53L131.21 540.18ZM138.97 535.99L142.32 539.34L138.97 542.69L135.62 539.34ZM143.33 534.52L146.68 537.87L143.33 541.22L139.98 537.87ZM147.68 533.05L151.03 536.40L147.68 539.75L144.33 536.40ZM152.14 531.90L155.49 535.25L152.14 538.60L148.79 535.25ZM156.61 530.85L159.96 534.20L156.61 537.55L153.26 534.20ZM161.03 529.58L164.38 532.93L161.03 536.28L157.68 532.93ZM165.29 527.90L168.64 531.25L165.29 534.60L161.94 531.25ZM169.14 525.38L172.49 528.73L169.14 532.08L165.79 528.73ZM173.04 526.15L176.39 529.50L173.04 532.85L169.69 529.50ZM177.27 527.28L180.62 530.63L177.27 533.98L173.92 530.63ZM181.77 526.47L185.12 529.82L181.77 533.17L178.42 529.82ZM186.14 525.26L189.49 528.61L186.14 531.96L182.79 528.61ZM190.51 526.72L193.86 530.07L190.51 533.42L187.16 530.07ZM194.59 528.81L197.94 532.16L194.59 535.51L191.24 532.16ZM198.54 531.16L201.89 534.51L198.54 537.86L195.19 534.51ZM202.39 533.68L205.74 537.03L202.39 540.38L199.04 537.03ZM206.65 535.33L210.00 538.68L206.65 542.03L203.30 538.68ZM211.11 535.69L214.46 539.04L211.11 542.39L207.76 539.04ZM215.61 534.80L218.96 538.15L215.61 541.50L212.26 538.15ZM219.96 533.30L223.31 536.65L219.96 540.00L216.61 536.65ZM223.97 531.06L227.32 534.41L223.97 537.76L220.62 534.41ZM227.72 528.43L231.07 531.78L227.72 535.13L224.37 531.78ZM231.37 525.67L234.72 529.02L231.37 532.37L228.02 529.02ZM235.37 523.40L238.72 526.75L235.37 530.10L232.02 526.75ZM238.24 519.91L241.59 523.26L238.24 526.61L234.89 523.26ZM240.79 516.09L244.14 519.44L240.79 522.79L237.44 519.44ZM243.19 512.16L246.54 515.51L243.19 518.86L239.84 515.51ZM245.97 508.66L249.32 512.01L245.97 515.36L242.62 512.01ZM250.08 506.59L253.43 509.94L250.08 513.29L246.73 509.94ZM253.76 503.83L257.11 507.18L253.76 510.53L250.41 507.18ZM257.32 500.93L260.67 504.28L257.32 507.63L253.97 504.28ZM260.51 497.69L263.86 501.04L260.51 504.39L257.16 501.04ZM262.68 493.64L266.03 496.99L262.68 500.34L259.33 496.99ZM264.62 489.47L267.97 492.82L264.62 496.17L261.27 492.82ZM266.34 485.21L269.69 488.56L266.34 491.91L262.99 488.56ZM268.40 481.10L271.75 484.45L268.40 487.80L265.05 484.45ZM270.50 477.00L273.85 480.35L270.50 483.70L267.15 480.35ZM272.73 472.98L276.08 476.33L272.73 479.68L269.38 476.33ZM275.21 469.11L278.56 472.46L275.21 475.81L271.86 472.46ZM277.88 465.37L281.23 468.72L277.88 472.07L274.53 468.72ZM280.94 461.96L284.29 465.31L280.94 468.66L277.59 465.31ZM284.20 458.70L287.55 462.05L284.20 465.40L280.85 462.05ZM287.45 455.45L290.80 458.80L287.45 462.15L284.10 458.80ZM290.17 451.78L293.52 455.13L290.17 458.48L286.82 455.13ZM292.53 447.84L295.88 451.19L292.53 454.54L289.18 451.19ZM294.59 443.72L297.94 447.07L294.59 450.42L291.24 447.07ZM296.68 439.63L300.03 442.98L296.68 446.33L293.33 442.98ZM298.91 435.60L302.26 438.95L298.91 442.30L295.56 438.95ZM300.00 433.65L303.35 437.00L300.00 440.35L296.65 437.00ZM303.16 429.78L306.51 433.13L303.16 436.48L299.81 433.13ZM306.52 426.21L309.87 429.56L306.52 432.91L303.17 429.56ZM311.26 424.63L314.61 427.98L311.26 431.33L307.91 427.98ZM316.01 423.07L319.36 426.42L316.01 429.77L312.66 426.42ZM320.74 421.44L324.09 424.79L320.74 428.14L317.39 424.79ZM325.47 419.84L328.82 423.19L325.47 426.54L322.12 423.19ZM330.28 418.52L333.63 421.87L330.28 425.22L326.93 421.87ZM335.22 417.95L338.57 421.30L335.22 424.65L331.87 421.30ZM340.16 418.71L343.51 422.06L340.16 425.41L336.81 422.06ZM345.13 419.24L348.48 422.59L345.13 425.94L341.78 422.59ZM350.11 418.94L353.46 422.29L350.11 425.64L346.76 422.29ZM355.06 418.26L358.41 421.61L355.06 424.96L351.71 421.61ZM359.90 417.09L363.25 420.44L359.90 423.79L356.55 420.44ZM364.65 415.55L368.00 418.90L364.65 422.25L361.30 418.90ZM369.50 414.35L372.85 417.70L369.50 421.05L366.15 417.70ZM374.50 414.35L377.85 417.70L374.50 421.05L371.15 417.70ZM379.47 414.81L382.82 418.16L379.47 421.51L376.12 418.16ZM386.73 415.89L390.08 419.24L386.73 422.59L383.38 419.24ZM392.64 416.91L395.99 420.26L392.64 423.61L389.29 420.26ZM398.54 418.00L401.89 421.35L398.54 424.70L395.19 421.35ZM404.33 419.54L407.68 422.89L404.33 426.24L400.98 422.89ZM410.30 418.95L413.65 422.30L410.30 425.65L406.95 422.30ZM416.27 418.35L419.62 421.70L416.27 425.05L412.92 421.70ZM422.24 417.74L425.59 421.09L422.24 424.44L418.89 421.09ZM428.15 418.55L431.50 421.90L428.15 425.25L424.80 421.90ZM434.06 419.62L437.41 422.97L434.06 426.32L430.71 422.97ZM439.83 421.26L443.18 424.61L439.83 427.96L436.48 424.61ZM445.65 422.71L449.00 426.06L445.65 429.41L442.30 426.06ZM451.45 424.14L454.80 427.49L451.45 430.84L448.10 427.49ZM457.01 426.40L460.36 429.75L457.01 433.10L453.66 429.75ZM462.69 428.32L466.04 431.67L462.69 435.02L459.34 431.67ZM468.45 429.98L471.80 433.33L468.45 436.68L465.10 433.33ZM474.29 431.34L477.64 434.69L474.29 438.04L470.94 434.69ZM480.25 431.90L483.60 435.25L480.25 438.60L476.90 435.25ZM486.24 432.04L489.59 435.39L486.24 438.74L482.89 435.39ZM492.21 431.48L495.56 434.83L492.21 438.18L488.86 434.83ZM498.14 431.67L501.49 435.02L498.14 438.37L494.79 435.02ZM503.99 432.98L507.34 436.33L503.99 439.68L500.64 436.33ZM509.68 434.90L513.03 438.25L509.68 441.60L506.33 438.25ZM515.35 436.86L518.70 440.21L515.35 443.56L512.00 440.21Z" fill="#d0081c"/>
<line x1="89.2" y1="361.6" x2="133.5" y2="361.6" stroke="#b80c1c" stroke-width="2.8"/>
<path d="M110.8 358.4L113.8 361.6L110.8 364.8L107.8 361.6Z" fill="#d0081c" stroke="#d0081c" stroke-width="0.9" stroke-linejoin="round"/>
<line x1="89.2" y1="383.1" x2="133.5" y2="383.1" stroke="#4552a6" stroke-width="2.8"/>
<rect x="106.9" y="379.1" width="7.9" height="7.7" rx="2" fill="#4552a6"/>
<text x="140.8" y="368" font-size="16" font-weight="normal" font-style="normal" text-anchor="start" textLength="25.5" lengthAdjust="spacingAndGlyphs" stroke="#000" stroke-width="0.5">WT</text>
<text x="141.3" y="388.8" font-size="16" font-weight="normal" font-style="italic" text-anchor="start" textLength="46.5" lengthAdjust="spacingAndGlyphs" stroke="#000" stroke-width="0.5">stim1<tspan font-size="10" dy="-6.5">-/-</tspan></text>
<text x="0.6" y="724.2" font-size="25" font-weight="bold" font-style="normal" text-anchor="start">C</text>
<text x="153.9" y="723.9" font-size="16.6" font-weight="normal" font-style="normal" text-anchor="start" textLength="50.6" lengthAdjust="spacingAndGlyphs" stroke="#000" stroke-width="0.5">Control</text>
<line x1="120" y1="732.3" x2="240" y2="732.3" stroke="#000" stroke-width="3"/>
<text x="350" y="725.2" font-size="16" font-weight="normal" font-style="normal" text-anchor="start" textLength="44.6" lengthAdjust="spacingAndGlyphs" stroke="#000" stroke-width="0.5">pRGD</text>
<line x1="311.5" y1="732" x2="432.2" y2="732" stroke="#000" stroke-width="3"/>
<text x="116.2" y="756.6" font-size="16" font-weight="normal" font-style="normal" text-anchor="start" textLength="25.3" lengthAdjust="spacingAndGlyphs" stroke="#000" stroke-width="0.5">WT</text>
<text x="204.6" y="756.5" font-size="15.5" font-weight="bold" font-style="italic" text-anchor="start" textLength="46" lengthAdjust="spacingAndGlyphs">stim1<tspan font-size="10" dy="-6">-/-</tspan></text>
<text x="308.5" y="756.6" font-size="16" font-weight="normal" font-style="normal" text-anchor="start" textLength="24.5" lengthAdjust="spacingAndGlyphs" stroke="#000" stroke-width="0.5">WT</text>
<text x="396.2" y="756.5" font-size="15.5" font-weight="bold" font-style="italic" text-anchor="start" textLength="47.6" lengthAdjust="spacingAndGlyphs">stim1<tspan font-size="10" dy="-6">-/-</tspan></text>
<defs>
<filter id="blur1" x="-20%" y="-200%" width="140%" height="500%"><feGaussianBlur stdDeviation="1.3"/></filter>
<filter id="blur2" x="-20%" y="-200%" width="140%" height="500%"><feGaussianBlur stdDeviation="0.9"/></filter>
</defs>
<rect x="83.8" y="770.5" width="379.8" height="65.2" fill="#1b1512"/>
<g filter="url(#blur2)">
<ellipse cx="173" cy="786.2" rx="6.2" ry="3.6" fill="#e8202c"/>
<rect x="93" y="804" width="70" height="6" rx="3" fill="#2c1c1a"/>
<rect x="191" y="804" width="66" height="6" rx="3" fill="#251a17"/>
<rect x="278" y="807.2" width="72.5" height="4.4" rx="2.2" fill="#b01a1e"/>
<rect x="371" y="807" width="76.5" height="4" rx="2" fill="#8a1820"/>
</g>
<rect x="84.3" y="846.4" width="379.3" height="66.1" fill="#1a1512"/>
<g filter="url(#blur2)">
<rect x="101.3" y="881" width="74.2" height="7" rx="3.5" fill="#da101a"/>
<rect x="193.8" y="881.5" width="72.4" height="7.2" rx="3.6" fill="#da101a"/>
<rect x="289.2" y="882.8" width="68.5" height="6.8" rx="3.4" fill="#d6101a"/>
<rect x="380.8" y="883.3" width="72" height="7.4" rx="3.7" fill="#dc101a"/>
</g>
<text x="-0.6" y="808" font-size="15.5" font-weight="normal" font-style="normal" text-anchor="start" textLength="62.6" lengthAdjust="spacingAndGlyphs" stroke="#000" stroke-width="0.5">p-PLC&#947;2</text>
<text x="14.2" y="888.2" font-size="15.5" font-weight="normal" font-style="normal" text-anchor="start" textLength="47.2" lengthAdjust="spacingAndGlyphs" stroke="#000" stroke-width="0.5">PLC&#947;2</text>
<text x="0.3" y="955.8" font-size="25" font-weight="bold" font-style="normal" text-anchor="start">D</text>
<line x1="70.7" y1="951.7" x2="70.7" y2="1185.5" stroke="#000" stroke-width="3"/>
<line x1="68.8" y1="1184.1" x2="480" y2="1184.1" stroke="#000" stroke-width="3"/>
<line x1="59" y1="953.2" x2="70" y2="953.2" stroke="#000" stroke-width="3"/>
<text x="54.6" y="956.9000000000001" font-size="18.4" font-weight="normal" font-style="normal" text-anchor="end" textLength="9.6" lengthAdjust="spacingAndGlyphs" stroke="#000" stroke-width="0.35">8</text>
<line x1="59" y1="986.2" x2="70" y2="986.2" stroke="#000" stroke-width="3"/>
<line x1="59" y1="1019.2" x2="70" y2="1019.2" stroke="#000" stroke-width="3"/>
<text x="54.6" y="1022.9000000000001" font-size="18.4" font-weight="normal" font-style="normal" text-anchor="end" textLength="9.6" lengthAdjust="spacingAndGlyphs" stroke="#000" stroke-width="0.35">6</text>
<line x1="59" y1="1051.5" x2="70" y2="1051.5" stroke="#000" stroke-width="3"/>
<line x1="59" y1="1083.9" x2="70" y2="1083.9" stroke="#000" stroke-width="3"/>
<text x="54.6" y="1087.6000000000001" font-size="18.4" font-weight="normal" font-style="normal" text-anchor="end" textLength="9.6" lengthAdjust="spacingAndGlyphs" stroke="#000" stroke-width="0.35">4</text>
<line x1="59" y1="1118.6" x2="70" y2="1118.6" stroke="#000" stroke-width="3"/>
<line x1="59" y1="1152.1" x2="70" y2="1152.1" stroke="#000" stroke-width="3"/>
<text x="54.6" y="1155.8" font-size="18.4" font-weight="normal" font-style="normal" text-anchor="end" textLength="9.6" lengthAdjust="spacingAndGlyphs" stroke="#000" stroke-width="0.35">2</text>
<text transform="translate(26.8 1145.6) rotate(-90)" font-size="15.6" font-weight="bold" textLength="178.8" lengthAdjust="spacingAndGlyphs">IP<tspan font-size="10" dy="5">3</tspan><tspan dy="-5"> (pmol/10</tspan><tspan font-size="10" dy="-6">6</tspan><tspan dy="6"> neutrophils)</tspan></text>
<line x1="130" y1="1170" x2="130" y2="1151.2" stroke="#000" stroke-width="3"/>
<line x1="123.75" y1="1151.2" x2="138.75" y2="1151.2" stroke="#000" stroke-width="3"/>
<line x1="169.5" y1="1170" x2="169.5" y2="1163.2" stroke="#000" stroke-width="3"/>
<line x1="162.5" y1="1163.2" x2="177" y2="1163.2" stroke="#000" stroke-width="3"/>
<line x1="307" y1="1055.5" x2="307" y2="1027" stroke="#000" stroke-width="3"/>
<line x1="301.25" y1="1027" x2="315.5" y2="1027" stroke="#000" stroke-width="3"/>
<line x1="348.75" y1="1049.5" x2="348.75" y2="993.2" stroke="#000" stroke-width="3"/>
<line x1="342.5" y1="993.2" x2="355" y2="993.2" stroke="#000" stroke-width="3"/>
<rect x="109.5" y="1171.3" width="40.5" height="12.799999999999955" fill="#d04c56" stroke="#000" stroke-width="2.6"/>
<rect x="150" y="1171.3" width="39.30000000000001" height="12.799999999999955" fill="#c8c8c8" stroke="#000" stroke-width="2.6"/>
<rect x="289.3" y="1056.8" width="39.19999999999999" height="127.29999999999995" fill="#d04c56" stroke="#000" stroke-width="2.6"/>
<rect x="328.5" y="1050.8" width="39.0" height="133.29999999999995" fill="#c8c8c8" stroke="#000" stroke-width="2.6"/>
<path d="M140.2 1015.6V1004.8H195M252 1004.8H305.6V1015.6" fill="none" stroke="#000" stroke-width="1.6"/>
<polygon points="210.20,1008.00 211.36,1010.00 213.62,1010.49 212.08,1012.21 212.32,1014.51 210.20,1013.58 208.08,1014.51 208.32,1012.21 206.78,1010.49 209.04,1010.00" fill="#000"/>
<polygon points="221.80,1008.00 222.96,1010.00 225.22,1010.49 223.68,1012.21 223.92,1014.51 221.80,1013.58 219.68,1014.51 219.92,1012.21 218.38,1010.49 220.64,1010.00" fill="#000"/>
<polygon points="233.30,1008.00 234.46,1010.00 236.72,1010.49 235.18,1012.21 235.42,1014.51 233.30,1013.58 231.18,1014.51 231.42,1012.21 229.88,1010.49 232.14,1010.00" fill="#000"/>
<rect x="88.25" y="947.5" width="18" height="16.3" fill="#d04c56" stroke="#000" stroke-width="2.6"/>
<rect x="88.25" y="969.5" width="18" height="16.3" fill="#c8c8c8" stroke="#000" stroke-width="2.6"/>
<text x="113.8" y="961.3" font-size="15.5" font-weight="normal" font-style="normal" text-anchor="start" textLength="24.3" lengthAdjust="spacingAndGlyphs" stroke="#000" stroke-width="0.5">WT</text>
<text x="113.8" y="983" font-size="15.5" font-weight="normal" font-style="italic" text-anchor="start" textLength="48" lengthAdjust="spacingAndGlyphs" stroke="#000" stroke-width="0.5">stim1<tspan font-size="10" dy="-6">-/-</tspan></text>
<text x="125" y="1205.3" font-size="16" font-weight="normal" font-style="normal" text-anchor="start" textLength="50.2" lengthAdjust="spacingAndGlyphs" stroke="#000" stroke-width="0.5">Control</text>
<text x="313.8" y="1206" font-size="16" font-weight="normal" font-style="normal" text-anchor="start" textLength="42.5" lengthAdjust="spacingAndGlyphs" stroke="#000" stroke-width="0.5">pRGD</text>
</svg>
</body></html>
